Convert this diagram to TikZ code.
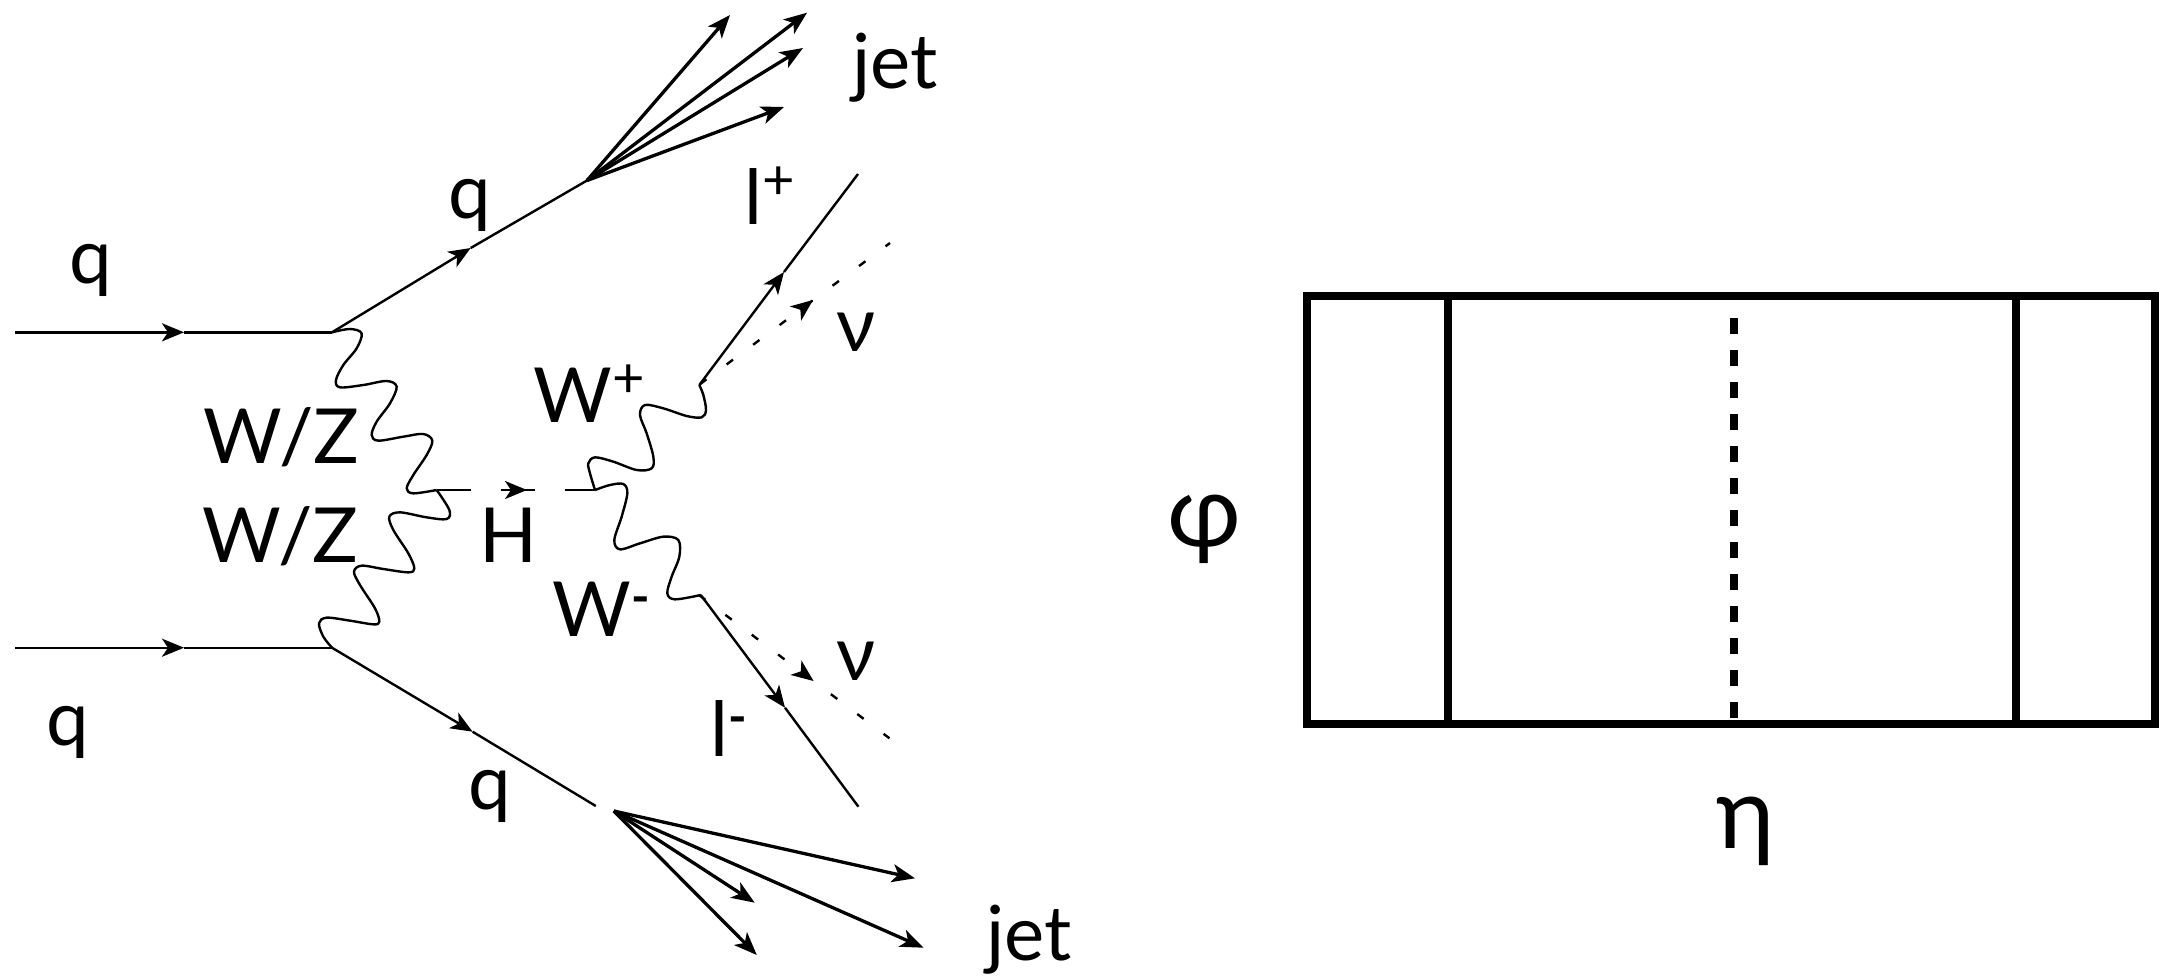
\documentclass[tikz,border=0pt]{standalone}
\usepackage{fontspec}
\setmainfont{Lato}
\usetikzlibrary{arrows.meta}
\newcommand{\supplus}{\raisebox{25pt}{\fontsize{56}{56}\selectfont +}}
\newcommand{\supminus}{\raisebox{22pt}{\fontsize{50}{50}\selectfont\bfseries -}}
\tikzset{
  lbl/.style={inner sep=0pt,anchor=base,font=\fontsize{76}{90}\selectfont},
  biglbl/.style={inner sep=0pt,anchor=base,font=\fontsize{100}{120}\selectfont},
  head/.style={-{Stealth[length=22pt,width=18pt,inset=6pt]}},
  fermion/.style={line width=2.4pt,line cap=butt},
  jetline/.style={line width=3.3pt,-{Stealth[length=23pt,width=18pt,inset=6pt]}},
  wave/.style={line width=2.4pt,line join=round},
  nuline/.style={line width=2.4pt,dash pattern=on 8pt off 25pt},
  higgs/.style={line width=2.4pt,dash pattern=on 34pt off 30pt},
  boxline/.style={line width=8pt,line join=miter},
  cutline/.style={line width=8pt,dash pattern=on 16pt off 16pt}
}
\begin{document}
\begin{tikzpicture}[x=1pt,y=-1pt]
\useasboundingbox (0,0) rectangle (2167,975);
% vertices
\coordinate (qaS) at (15,332.3);
\coordinate (qaM) at (184,332.3);
\coordinate (vU) at (332,332.3);
\coordinate (qbS) at (15,647.7);
\coordinate (qbM) at (184,647.7);
\coordinate (vD) at (332,647.7);
\coordinate (quM) at (470.7,248);
\coordinate (jU) at (587,180.5);
\coordinate (qdM) at (472.6,731.7);
\coordinate (qdE) at (595.8,806);
\coordinate (jD) at (613.8,811);
\coordinate (vH) at (436.7,490);
\coordinate (vW) at (595,490);
\coordinate (hM) at (527,490);
\coordinate (hB) at (503,490);
\coordinate (vP) at (699.3,385);
\coordinate (vM) at (700.8,595);
\coordinate (lpM) at (784,272);
\coordinate (lpE) at (858,174);
\coordinate (lmM) at (785,707.7);
\coordinate (lmE) at (858.4,806.7);
\coordinate (npS) at (700.1,384.1);
\coordinate (npE) at (890,243);
\coordinate (npT) at (813,300);
\coordinate (npB) at (795,314);
\coordinate (nmS) at (699,595);
\coordinate (nmE) at (889.5,738.3);
\coordinate (nmT) at (813.6,681);
\coordinate (nmB) at (795.6,667.4);
\coordinate (j1) at (730,15);
\coordinate (j2) at (807,12.7);
\coordinate (j3) at (803,48);
\coordinate (j4) at (784,107);
\coordinate (k1) at (915,878.3);
\coordinate (k2) at (923.5,947.7);
\coordinate (k3) at (754.7,902.7);
\coordinate (k4) at (756.8,955);
% incoming quarks
\draw[fermion,head,line width=2.8pt] (qaS) -- (qaM);
\draw[fermion,line width=2.8pt] (qaM) -- (vU);
\draw[fermion,head] (qbS) -- (qbM);
\draw[fermion] (qbM) -- (vD);
% outgoing quarks
\draw[fermion,head] (vU) -- (quM);
\draw[fermion] (quM) -- (jU);
\draw[fermion,head] (vD) -- (qdM);
\draw[fermion] (qdM) -- (qdE);
% jets
\draw[jetline] (jU) -- (j1);
\draw[jetline] (jU) -- (j2);
\draw[jetline] (jU) -- (j3);
\draw[jetline] (jU) -- (j4);
\draw[jetline] (jD) -- (k1);
\draw[jetline] (jD) -- (k2);
\draw[jetline] (jD) -- (k3);
\draw[jetline] (jD) -- (k4);
% Higgs
\draw[higgs] (vH) -- (vW);
\draw[line width=2.4pt,head] (hB) -- (hM);
% leptons
\draw[fermion,head] (vP) -- (lpM);
\draw[fermion] (lpM) -- (lpE);
\draw[fermion,head] (vM) -- (lmM);
\draw[fermion] (lmM) -- (lmE);
% neutrinos
\draw[nuline] (npS) -- (npE);
\draw[line width=2.4pt,head,shorten <=10pt] (npB) -- (npT);
\draw[nuline] (nmS) -- (nmE);
\draw[line width=2.4pt,head,shorten <=10pt] (nmB) -- (nmT);
% W/Z waves
\begin{scope}[shift={(0,280)},x=0.33333pt,y=-0.33333pt]
\draw[wave] plot[smooth,tension=0.55] coordinates {(vU) (1050,147) (1085,160) (1070,205) (1030,255) (1008,300) (1020,322) (1090,315) (1160,303) (1190,320) (1170,370) (1130,425) (1115,465) (1135,482) (1210,470) (1270,462) (1297,482) (1280,525) (1240,585) (1220,625) (1240,640) (vH)};
\draw[wave] plot[smooth,tension=0.55] coordinates {(vH) (1348,690) (1340,717) (1280,712) (1200,697) (1168,710) (1180,750) (1225,820) (1243,865) (1225,877) (1150,867) (1085,857) (1062,875) (1080,915) (1125,985) (1138,1025) (1120,1033) (1050,1022) (980,1013) (957,1030) (970,1070) (vD)};
\end{scope}
% W waves
\begin{scope}[shift={(420,360)},x=0.33333pt,y=-0.33333pt]
\draw[wave] plot[smooth,tension=0.55] coordinates {(vW) (510,340) (505,310) (525,292) (580,305) (650,330) (695,325) (700,290) (680,220) (660,165) (675,135) (730,145) (800,168) (845,172) (858,150) (850,105) (vP)};
\draw[wave] plot[smooth,tension=0.55] coordinates {(vW) (570,375) (610,372) (622,400) (605,470) (583,540) (600,568) (660,550) (730,530) (775,540) (778,590) (755,650) (742,700) (765,718) (vM)};
\end{scope}
% labels
\node[lbl] (q1) at (90.5,283) {q};
\node[lbl] (q2) at (470,218) {q};
\node[lbl] (q3) at (68,745) {q};
\node[lbl] (q4) at (490,809) {q};
\node[lbl] (wz1) at (281.5,463) {W/Z};
\node[lbl] (wz2) at (280.5,562) {W/Z};
\node[lbl] (hl) at (509,562) {H};
\node[lbl] (wp) at (589,422.7) {W\supplus};
\node[lbl] (wm) at (601,636) {W\supminus};
\node[lbl] (lp) at (770,224) {l\supplus};
\node[lbl] (lm) at (729,756) {l\supminus};
\node[lbl] (nup) at (856,351) {ν};
\node[lbl] (num) at (856,680) {ν};
\node[lbl] (jt) at (895,88.3) {jet};
\node[lbl] (jb) at (1029,960) {jet};
% eta-phi panel
\coordinate (bTL) at (1307,295.5);
\coordinate (bBR) at (2155,724);
\coordinate (c1T) at (1447.6,295.5);
\coordinate (c1B) at (1447.6,724);
\coordinate (c2T) at (2016,295.5);
\coordinate (c2B) at (2016,724);
\coordinate (dT) at (1733.5,318);
\coordinate (dB) at (1733.5,718);
\draw[boxline] (bTL) rectangle (bBR);
\draw[boxline] (c1T) -- (c1B);
\draw[boxline] (c2T) -- (c2B);
\draw[cutline] (dT) -- (dB);
\node[biglbl] (phi) at (1204,546) {φ};
\node[biglbl] (eta) at (1746,848) {η};
\end{tikzpicture}
\end{document}
